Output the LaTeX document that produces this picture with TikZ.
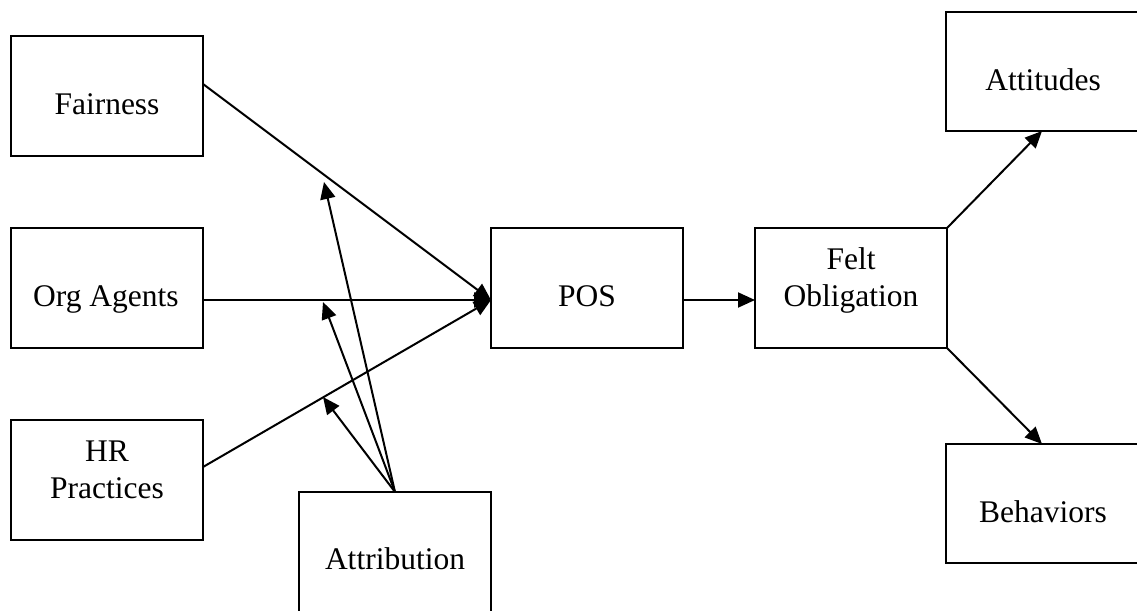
\documentclass[tikz,border=0pt]{standalone}
\usepackage{fontspec}
\setmainfont{Liberation Serif}
\usetikzlibrary{arrows.meta,calc}
\begin{document}
\begin{tikzpicture}[x=1pt,y=-1pt,
  box/.style={draw,line width=2pt,minimum width=192pt,minimum height=120pt,inner sep=0pt,outer sep=0pt},
  lbl/.style={anchor=base,inner sep=0pt,font=\fontsize{31.5}{37}\selectfont},
  conn/.style={line width=2pt,-{Triangle[length=17pt,width=15pt]}}]
\useasboundingbox (0,0) rectangle (1137,610);
% boxes
\node[box] (fair) at (107,96) {};
\node[box] (org) at (107,288) {};
\node[box] (hr) at (107,480) {};
\node[box] (attr) at (395,552) {};
\node[box] (pos) at (587,288) {};
\node[box] (felt) at (851,288) {};
\node[box,minimum width=196pt,minimum height=119pt] (att) at (1044,71.5) {};
\node[box,minimum width=196pt,minimum height=119pt] (beh) at (1044,503.5) {};
% texts
\node[lbl] (fairT) at (107,114) {Fairness};
\node[lbl] (orgT) at (106,306) {Org Agents};
\node[lbl] (hrT1) at (107,461) {HR};
\node[lbl] (hrT2) at (107,498) {Practices};
\node[lbl] (attrT) at (395,569) {Attribution};
\node[lbl] (posT) at (587,306) {POS};
\node[lbl] (feltT1) at (851,269) {Felt};
\node[lbl] (feltT2) at (851,306) {Obligation};
\node[lbl] (attT) at (1043,90) {Attitudes};
\node[lbl] (behT) at (1043,522) {Behaviors};
% connector points
\coordinate (fo) at ($(fair.east)+(0,-12)$);
\coordinate (oo) at ($(org.east)+(0,12)$);
\coordinate (ho) at ($(hr.east)+(0,-13)$);
\coordinate (pin) at ($(pos.west)+(0,12)$);
\coordinate (pout) at ($(pos.east)+(0,12)$);
\coordinate (fin) at ($(felt.west)+(0,12)$);
\coordinate (t1) at (324,182);
\coordinate (t2) at (323,302);
\coordinate (t3) at (323,397);
\coordinate (attin) at (1042,131);
\coordinate (behin) at (1042,444);
% connectors
\draw[conn] (fo) -- (pin);
\draw[conn] (oo) -- (pin);
\draw[conn] (ho) -- (pin);
\draw[conn] (attr.north) -- (t1);
\draw[conn] (attr.north) -- (t2);
\draw[conn] (attr.north) -- (t3);
\draw[conn] (pout) -- (fin);
\draw[conn] (felt.north east) -- (attin);
\draw[conn] (felt.south east) -- (behin);
\end{tikzpicture}
\end{document}
